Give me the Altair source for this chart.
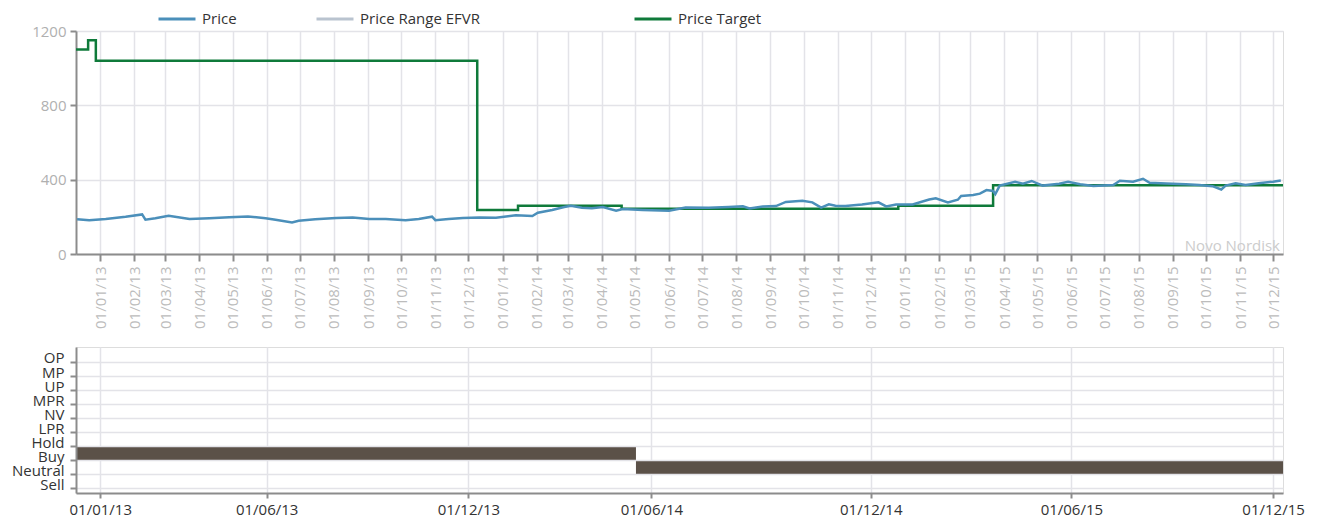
import altair as alt
import pandas as pd

# ---------------- data ----------------
price_dates = [
    "2012-12-11", "2012-12-22", "2013-01-06", "2013-01-24", "2013-02-08", "2013-02-11",
    "2013-02-20", "2013-03-04", "2013-03-23", "2013-04-10", "2013-04-28", "2013-05-15",
    "2013-05-31", "2013-06-09", "2013-06-24", "2013-06-30", "2013-07-15", "2013-08-03",
    "2013-08-18", "2013-09-02", "2013-09-17", "2013-10-05", "2013-10-17", "2013-10-29",
    "2013-11-01", "2013-11-13", "2013-11-26", "2013-12-11", "2013-12-26", "2014-01-13",
    "2014-01-28", "2014-02-02", "2014-02-15", "2014-02-26", "2014-03-04", "2014-03-14",
    "2014-03-23", "2014-04-02", "2014-04-14", "2014-04-20", "2014-05-08", "2014-06-01",
    "2014-06-16", "2014-07-07", "2014-07-25", "2014-08-07", "2014-08-13", "2014-08-25",
    "2014-09-06", "2014-09-15", "2014-09-30", "2014-10-09", "2014-10-17", "2014-10-24",
    "2014-10-30", "2014-11-08", "2014-11-23", "2014-12-08", "2014-12-15", "2014-12-24",
    "2015-01-08", "2015-01-23", "2015-01-29", "2015-02-09", "2015-02-18", "2015-02-21",
    "2015-03-04", "2015-03-10", "2015-03-16", "2015-03-22", "2015-03-24", "2015-03-28",
    "2015-04-11", "2015-04-18", "2015-04-26", "2015-05-06", "2015-05-21", "2015-05-29",
    "2015-06-09", "2015-06-21", "2015-07-09", "2015-07-15", "2015-07-27", "2015-08-05",
    "2015-08-11", "2015-08-26", "2015-09-13", "2015-09-25", "2015-10-07", "2015-10-15",
    "2015-10-19", "2015-10-28", "2015-11-06", "2015-11-18", "2015-12-01", "2015-12-08",
]
price_values = [
    187, 182, 188, 200, 213, 185,
    192, 206, 188, 192, 198, 202,
    192, 184, 170, 179, 187, 194,
    196, 189, 188, 182, 188, 201,
    182, 188, 194, 197, 195, 208,
    204, 222, 237, 253, 260, 249,
    246, 253, 233, 242, 237, 233,
    250, 249, 253, 257, 245, 255,
    258, 280, 287, 278, 250, 267,
    260, 258, 267, 278, 256, 266,
    267, 293, 300, 278, 292, 312,
    317, 325, 344, 339, 322, 368,
    389, 378, 393, 368, 378, 389,
    375, 366, 371, 394, 389, 405,
    383, 380, 375, 371, 365, 347,
    368, 381, 372, 381, 389, 395,
]

target_dates = ["2012-12-10", "2012-12-21", "2012-12-28", "2013-12-09", "2014-01-15",
                "2014-04-19", "2014-12-26", "2015-03-22", "2015-12-10"]
target_values = [1100, 1150, 1040, 237, 260, 244, 260, 370, 370]

rec_start = ["2012-12-10", "2014-05-02"]
rec_end = ["2014-05-02", "2015-12-10"]
rec_rating = ["Buy", "Neutral"]

rating_order = ["OP", "MP", "UP", "MPR", "NV", "LPR", "Hold", "Buy", "Neutral", "Sell"]

series_names = ["Price", "Price Range EFVR", "Price Target"]
series_colors = ["#4b8fba", "#b9c3cf", "#0f7a3a"]

y_ticks = [0, 200, 400, 600, 800, 1000, 1200]

bottom_tick_dates = ["2013-01-01", "2013-06-01", "2013-12-01", "2014-05-16",
                     "2014-12-01", "2015-06-01", "2015-12-01"]
bottom_tick_labels = ["01/01/13", "01/06/13", "01/12/13", "01/06/14",
                      "01/12/14", "01/06/15", "01/12/15"]

x_start = "2012-12-10"
x_end = "2015-12-10"

# ---------------- helpers ----------------
def dt(s):
    y, m, d = (int(v) for v in s.split("-"))
    return alt.DateTime(year=y, month=m, date=d)

FONT = "Open Sans"
GRID = "#e3e3e8"
DOMAIN = "#8c8c8c"

price_df = pd.DataFrame({"date": price_dates, "value": price_values, "series": "Price"})
target_df = pd.DataFrame({"date": target_dates, "value": target_values, "series": "Price Target"})
rec_df = pd.DataFrame({"start": rec_start, "end": rec_end, "rating": rec_rating})

x_scale = alt.Scale(domain=[dt(x_start), dt(x_end)], nice=False)

pad_label = "Price Range EFVR"
legend_expr = ("datum.label == '" + pad_label + "' ? datum.label + '" + "\u00a0" * 19 +
               "\u200b' : datum.label")

color = alt.Color(
    "series:N",
    scale=alt.Scale(domain=series_names, range=series_colors),
    legend=alt.Legend(
        title=None, orient="none", direction="horizontal",
        legendX=90, legendY=-23,
        symbolType="M-2,0H2", symbolSize=342, symbolStrokeWidth=3,
        labelFont=FONT, labelFontSize=15, labelColor="#333333", labelLimit=400,
        labelOffset=14, columnPadding=73, labelExpr=legend_expr,
    ),
)

top_x_axis = alt.Axis(
    title=None, format="%d/%m/%y", tickCount={"interval": "month", "step": 1},
    labelAngle=-90, labelFont=FONT, labelFontSize=15, labelColor="#bcbcbc",
    labelPadding=5, tickSize=7, tickColor=DOMAIN, tickWidth=2,
    domainColor=DOMAIN, domainWidth=2, gridColor=GRID, gridWidth=1.5,
    labelOverlap=False,
)
top_y_axis = alt.Axis(
    title=None, values=y_ticks, format="d", labelOverlap=False,
    labelFont=FONT, labelFontSize=15, labelColor="#b0b0b0",
    tickSize=6, tickColor=DOMAIN, tickWidth=2, domainColor=DOMAIN, domainWidth=2,
    gridColor=GRID, gridWidth=1.5, labelPadding=4,
)

W = 1207
H_TOP = 223
H_BOT = 146

target_line = alt.Chart(target_df).mark_line(interpolate="step-after", strokeWidth=2.5).encode(
    x=alt.X("date:T", scale=x_scale, axis=top_x_axis),
    y=alt.Y("value:Q", scale=alt.Scale(domain=[0, 1200], nice=False), axis=top_y_axis),
    color=color,
)
price_line = alt.Chart(price_df).mark_line(strokeWidth=2.5).encode(
    x=alt.X("date:T", scale=x_scale),
    y=alt.Y("value:Q"),
    color=color,
)
watermark = alt.Chart(pd.DataFrame({"t": ["Novo Nordisk"]})).mark_text(
    align="right", baseline="alphabetic", font=FONT, fontSize=15, color="#cccccc"
).encode(x=alt.value(W - 3), y=alt.value(H_TOP - 3), text="t:N")

top = alt.layer(target_line, price_line, watermark).properties(width=W, height=H_TOP)

# bottom chart
label_expr = "timeFormat(datum.value, '%d/%m/%y')"
for d, lab in zip(reversed(bottom_tick_dates), reversed(bottom_tick_labels)):
    y, m, dd = d.split("-")
    key = f"{dd}/{m}/{y[2:]}"
    label_expr = f"timeFormat(datum.value, '%d/%m/%y') == '{key}' ? '{lab}' : ({label_expr})"

bot_x_axis = alt.Axis(
    title=None, values=[dt(d) for d in bottom_tick_dates], labelExpr=label_expr,
    labelFont=FONT, labelFontSize=15, labelColor="#333333", labelPadding=4,
    tickSize=5, tickColor=DOMAIN, tickWidth=2, domainColor=DOMAIN, domainWidth=2,
    gridColor=GRID, gridWidth=1.5,
)
BAND = 14.04
bot_y_axis = alt.Axis(
    title=None, tickOffset=BAND / 2, labelBaseline="alphabetic", labelOffset=1,
    labelFont=FONT, labelFontSize=15, labelColor="#333333", labelPadding=6,
    tickSize=6, tickColor=DOMAIN, tickWidth=2, domainColor=DOMAIN, domainWidth=2,
    grid=True, gridColor=GRID, gridWidth=1.5,
)
bottom = alt.Chart(rec_df).mark_rect(color="#5b5148").encode(
    x=alt.X("start:T", scale=x_scale, axis=bot_x_axis),
    x2="end:T",
    y=alt.Y("rating:N", sort=rating_order,
            scale=alt.Scale(domain=rating_order, paddingInner=0, paddingOuter=0.2,
                            align=0.17),
            axis=bot_y_axis),
).properties(width=W, height=H_BOT)

chart = alt.vconcat(top, bottom, spacing=17).properties(
    padding={"left": 2, "top": 0, "right": 5, "bottom": 0}
).configure_view(stroke=None).configure(font=FONT)

chart.save("out.html", embed_options={"renderer": "svg", "actions": False})
